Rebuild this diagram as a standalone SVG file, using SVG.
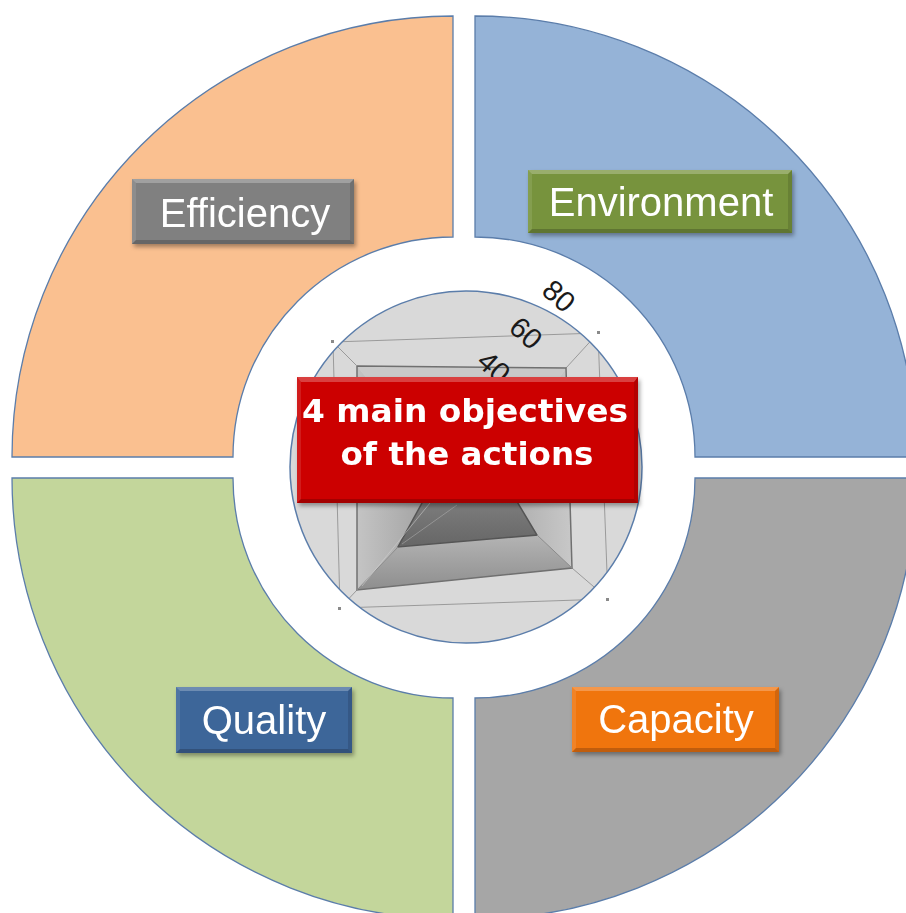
<svg xmlns="http://www.w3.org/2000/svg" width="906" height="913" viewBox="0 0 906 913">
<style>
.seg{stroke:#5b7daa;stroke-width:1.3}
.lbl{font-family:"Liberation Sans",Arial,sans-serif;font-size:40px;fill:#ffffff;text-anchor:middle}
.title{font-family:"DejaVu Sans","Liberation Sans",sans-serif;font-weight:bold;font-size:32px;fill:#ffffff;text-anchor:middle}
.num{font-family:"Liberation Sans",Arial,sans-serif;font-size:29px;fill:#1a1a1a;text-anchor:middle}
.bt{fill:#ffffff;fill-opacity:0.25}
.bl{fill:#ffffff;fill-opacity:0.1}
.bb{fill:#000000;fill-opacity:0.2}
.br{fill:#000000;fill-opacity:0.12}
.grid{fill:none;stroke:#9a9a9a;stroke-width:1}
.dot{fill:#8a8a8a}
</style>
<defs>
<filter id="sh" x="-10%" y="-10%" width="125%" height="140%">
<feDropShadow dx="2" dy="3" stdDeviation="2" flood-color="#000" flood-opacity="0.35"/>
</filter>
<clipPath id="cc"><circle cx="466" cy="467" r="176"/></clipPath>
<linearGradient id="gInner" x1="0" y1="0" x2="0" y2="1"><stop offset="0" stop-color="#8c8c8c"/><stop offset="1" stop-color="#666666"/></linearGradient>
<linearGradient id="gBottom" x1="0" y1="0" x2="0" y2="1"><stop offset="0" stop-color="#b4b4b4"/><stop offset="1" stop-color="#8e8e8e"/></linearGradient>
<linearGradient id="gLeft" x1="0" y1="0" x2="1" y2="0"><stop offset="0" stop-color="#c4c4c4"/><stop offset="1" stop-color="#9c9c9c"/></linearGradient>
<linearGradient id="gRight" x1="1" y1="0" x2="0" y2="0"><stop offset="0" stop-color="#c8c8c8"/><stop offset="1" stop-color="#a8a8a8"/></linearGradient>
</defs>

<g id="seg-efficiency">
<path class="seg" fill="#fac090" d="M 12 457 A 441 441 0 0 1 453 16 L 453 237 A 220 220 0 0 0 233 457 Z"/>
</g>
<g id="seg-environment">
<path class="seg" fill="#95b3d7" d="M 475 16 A 441 441 0 0 1 916 457 L 695 457 A 220 220 0 0 0 475 237 Z"/>
</g>
<g id="seg-capacity">
<path class="seg" fill="#a6a6a6" d="M 916 478 A 441 441 0 0 1 475 919 L 475 698 A 220 220 0 0 0 695 478 Z"/>
</g>
<g id="seg-quality">
<path class="seg" fill="#c3d69b" d="M 453 919 A 441 441 0 0 1 12 478 L 233 478 A 220 220 0 0 0 453 698 Z"/>
</g>

<g id="center">
<circle cx="466" cy="467" r="176" fill="#d9d9d9"/>
<g clip-path="url(#cc)">
<polygon class="grid" points="333,342 598,333 608,599 340,608"/>
<line class="grid" x1="333" y1="342" x2="357" y2="366"/>
<line class="grid" x1="598" y1="333" x2="566" y2="368"/>
<line class="grid" x1="608" y1="599" x2="572" y2="568"/>
<line class="grid" x1="340" y1="608" x2="357" y2="590"/>
<polygon fill="#c9c9c9" points="357,366 566,368 498,470 440,470"/>
<polygon fill="url(#gLeft)" points="357,366 440,470 398,547 357,590"/>
<polygon fill="url(#gRight)" points="566,368 572,568 537,535 498,470"/>
<polygon fill="url(#gBottom)" points="357,590 398,547 537,535 572,568"/>
<polygon fill="url(#gInner)" points="440,470 498,470 537,535 398,547"/>
<polyline fill="none" stroke="#707070" stroke-width="1.5" points="357,366 566,368 572,568 357,590 357,366"/>
<polyline fill="none" stroke="#555" stroke-width="1.5" points="440,470 498,470 537,535 398,547 440,470"/>
<line x1="398" y1="547" x2="357" y2="590" stroke="#8a8a8a" stroke-width="1"/>
<line x1="537" y1="535" x2="572" y2="568" stroke="#8a8a8a" stroke-width="1"/>
<line x1="430" y1="503" x2="362" y2="586" stroke="#d0d0d0" stroke-width="0.8" opacity="0.7"/>
<line x1="457" y1="505" x2="402" y2="544" stroke="#b0b0b0" stroke-width="0.8" opacity="0.7"/>
</g>
<circle cx="466" cy="467" r="176" fill="none" stroke="#5b7daa" stroke-width="1.5"/>
<rect class="dot" x="331" y="340" width="3" height="3"/>
<rect class="dot" x="597" y="331" width="3" height="3"/>
<rect class="dot" x="338" y="607" width="3" height="3"/>
<rect class="dot" x="606" y="598" width="3" height="3"/>
<text class="num" transform="translate(559,296) rotate(42)" y="10">80</text>
<text class="num" transform="translate(526,333) rotate(42)" y="10">60</text>
<text class="num" transform="translate(494,367) rotate(42)" y="10">40</text>
</g>

<g id="title-box" filter="url(#sh)">
<rect x="297" y="377" width="341" height="126" fill="#cc0202"/>
<polygon class="bt" points="297,377 638,377 634,382 301,382"/>
<polygon class="bl" points="297,377 301,382 301,499 297,503"/>
<polygon class="bb" points="297,503 301,499 634,499 638,503"/>
<polygon class="br" points="638,377 638,503 634,499 634,382"/>
<text class="title" x="465" y="422" textLength="326" lengthAdjust="spacingAndGlyphs">4 main objectives</text>
<text class="title" x="467" y="465" textLength="253" lengthAdjust="spacingAndGlyphs">of the actions</text>
</g>

<g id="label-efficiency" filter="url(#sh)">
<rect x="132" y="179" width="222" height="65" fill="#808080"/>
<polygon class="bt" points="132,179 354,179 350,183 136,183"/>
<polygon class="bl" points="132,179 136,183 136,240 132,244"/>
<polygon class="bb" points="132,244 136,240 350,240 354,244"/>
<polygon class="br" points="354,179 354,244 350,240 350,183"/>
<text class="lbl" x="245" y="227">Efficiency</text>
</g>

<g id="label-environment" filter="url(#sh)">
<rect x="528" y="170" width="264" height="63" fill="#77933c"/>
<polygon class="bt" points="528,170 792,170 788,174 532,174"/>
<polygon class="bl" points="528,170 532,174 532,229 528,233"/>
<polygon class="bb" points="528,233 532,229 788,229 792,233"/>
<polygon class="br" points="792,170 792,233 788,229 788,174"/>
<text class="lbl" x="661" y="216">Environment</text>
</g>

<g id="label-quality" filter="url(#sh)">
<rect x="176" y="687" width="176" height="66" fill="#3c6699"/>
<polygon class="bt" points="176,687 352,687 348,691 180,691"/>
<polygon class="bl" points="176,687 180,691 180,749 176,753"/>
<polygon class="bb" points="176,753 180,749 348,749 352,753"/>
<polygon class="br" points="352,687 352,753 348,749 348,691"/>
<text class="lbl" x="264" y="734">Quality</text>
</g>

<g id="label-capacity" filter="url(#sh)">
<rect x="572" y="687" width="207" height="65" fill="#f07510"/>
<polygon class="bt" points="572,687 779,687 775,691 576,691"/>
<polygon class="bl" points="572,687 576,691 576,748 572,752"/>
<polygon class="bb" points="572,752 576,748 775,748 779,752"/>
<polygon class="br" points="779,687 779,752 775,748 775,691"/>
<text class="lbl" x="676" y="733">Capacity</text>
</g>
</svg>
